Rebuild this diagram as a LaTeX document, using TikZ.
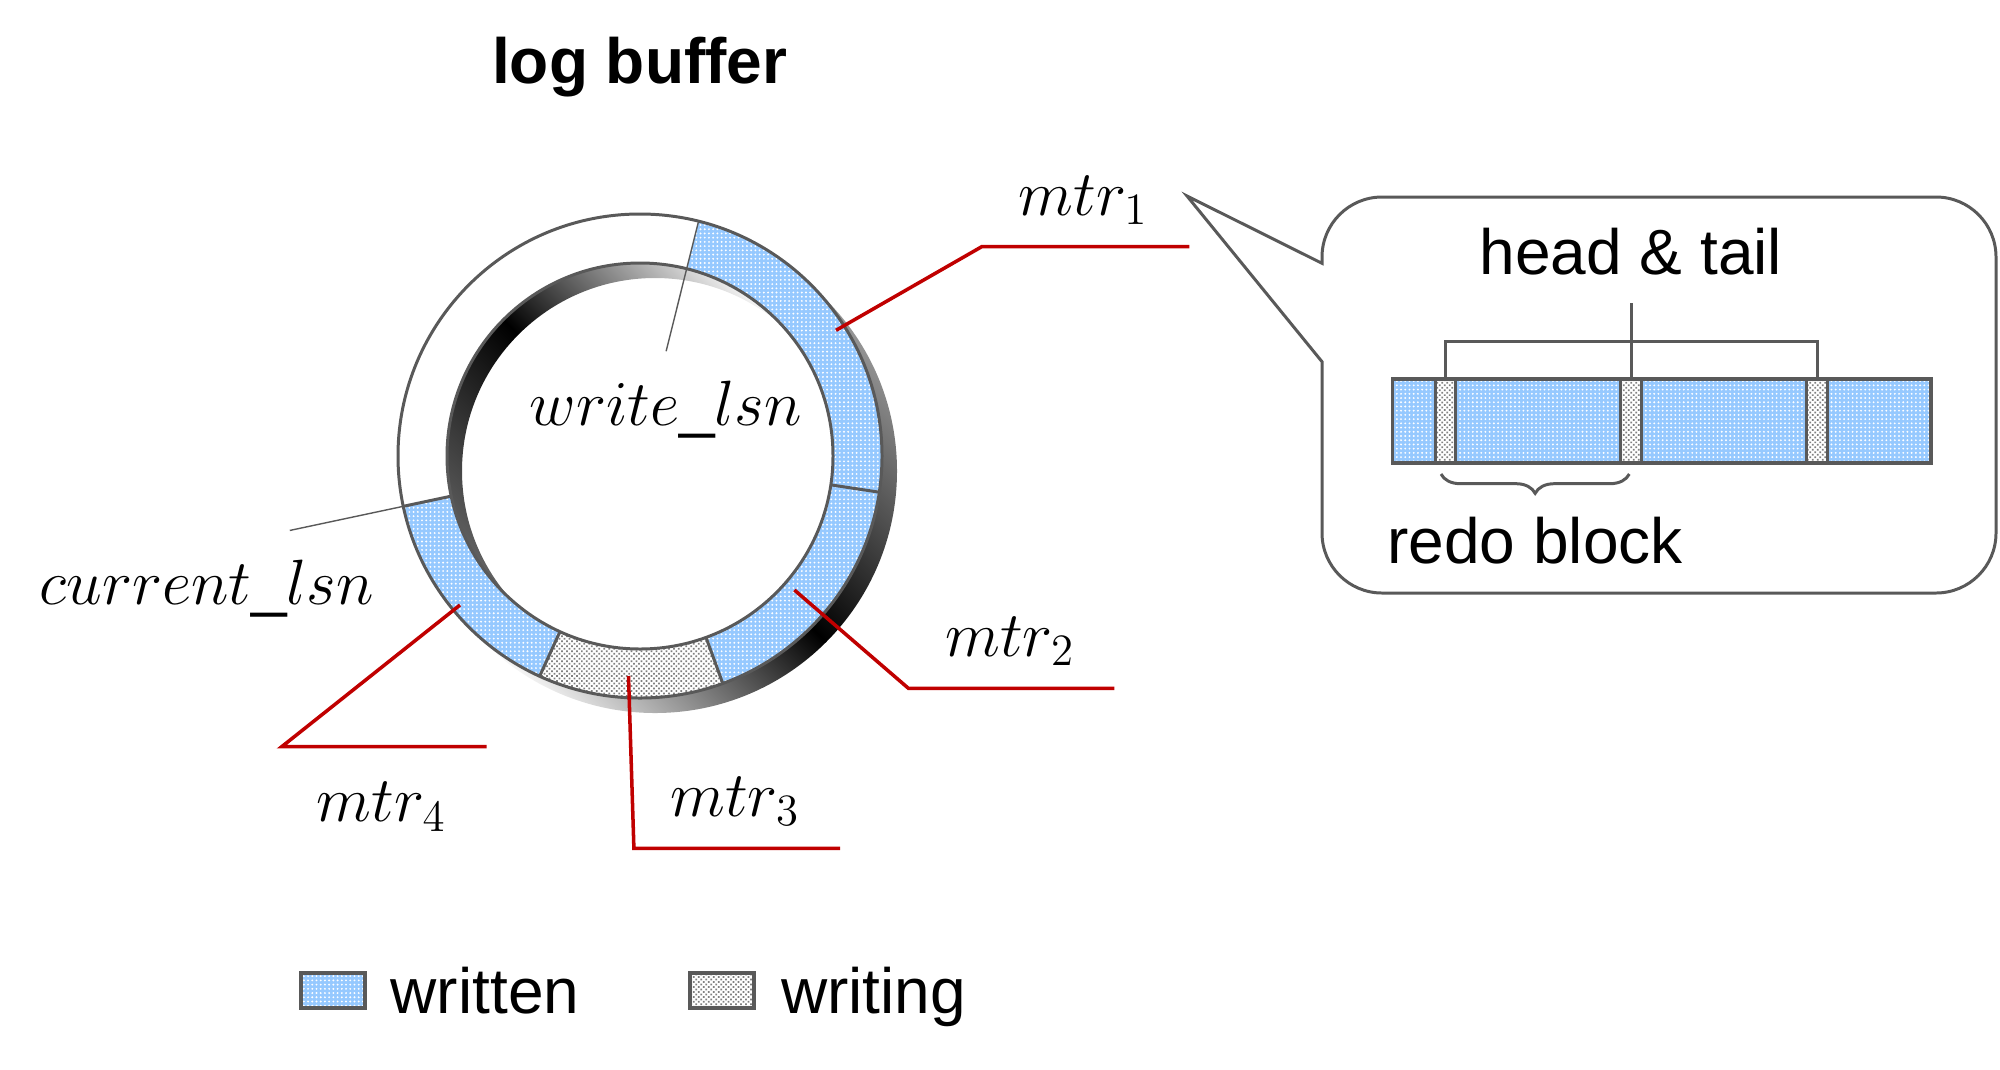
\RequirePackage{fix-cm}
\documentclass[tikz,border=0pt]{standalone}
\usepackage[no-math]{fontspec}
\setmainfont{Liberation Sans}
\usetikzlibrary{patterns,patterns.meta,decorations.pathreplacing}
\definecolor{lgray}{RGB}{89,89,89}
\definecolor{mred}{RGB}{192,0,0}
\definecolor{wblue}{RGB}{150,201,255}
\tikzstyle{txt}=[inner sep=0pt,font=\fontsize{18.2}{22}\selectfont]
\tikzstyle{written}=[fill=wblue,postaction={pattern={Dots[radius=0.3pt,distance=1.2pt]},pattern color=white}]
\tikzstyle{writing}=[fill=white,postaction={pattern={Dots[radius=0.35pt,distance=1pt,angle=45]},pattern color=black!50}]
\tikzstyle{ring}=[draw=lgray,line width=0.85pt]
\tikzstyle{tick}=[draw=lgray,line width=0.85pt]
\tikzstyle{glink}=[draw=lgray,line width=0.4pt]
\tikzstyle{mlink}=[draw=mred,line width=1pt]
\newcommand{\ringseg}[3]{\path[#1] (#2:242) arc[start angle=#2,end angle=#3,radius=242] -- (#3:193) arc[start angle=#3,end angle=#2,radius=193] -- cycle;}

\begin{document}
\begin{tikzpicture}[x=0.01cm,y=0.01cm]
\useasboundingbox (0,0) rectangle (2000,-1069);
\node[txt,anchor=base] (logbuf) at (639.7,-83.3) {\bfseries log buffer};

\begin{scope}[shift={(640,-456)}]
\shade[even odd rule,top color=lgray!60,bottom color=white,middle color=black,shading angle=-45] (15,-15) circle[radius=242] (0,0) circle[radius=242];
\shade[even odd rule,top color=white,bottom color=black!60,middle color=black,shading angle=-45] (0,0) circle[radius=193] (15,-15) circle[radius=193];
\ringseg{fill=white}{76}{192}
\ringseg{written}{192}{245.5}
\ringseg{writing}{245.5}{290}
\ringseg{written}{290}{351.4}
\ringseg{written}{351.4}{436}
\draw[ring] (0,0) circle[radius=242] (0,0) circle[radius=193];
\foreach \a in {192,245.5,290,351.4} \draw[ring] (\a:193) -- (\a:242);
\coordinate (wl) at (76:242); \coordinate (wlend) at (76:108);
\coordinate (cl) at (192:242); \coordinate (clend) at (192:358);
\end{scope}
\draw[glink] (wl) -- (wlend);
\draw[glink] (cl) -- (clend);

\node[txt,anchor=base] (wlsn) at (665.9,-425.7) {$write\_lsn$};
\node[txt,anchor=base] (clsn) at (206.7,-604) {$current\_lsn$};

\coordinate (m1a) at (836,-330.3); \coordinate (m1b) at (981.7,-246.7); \coordinate (m1c) at (1189.3,-246.7);
\coordinate (m2a) at (794.4,-590); \coordinate (m2b) at (908.4,-688.3); \coordinate (m2c) at (1114.4,-688.3);
\coordinate (m3a) at (628.5,-676); \coordinate (m3b) at (633.9,-848.3); \coordinate (m3c) at (840,-848.3);
\coordinate (m4a) at (460,-605); \coordinate (m4b) at (281.7,-746.7); \coordinate (m4c) at (486.7,-746.7);
\draw[mlink] (m1a) -- (m1b) -- (m1c);
\draw[mlink] (m2a) -- (m2b) -- (m2c);
\draw[mlink] (m3a) -- (m3b) -- (m3c);
\draw[mlink] (m4a) -- (m4b) -- (m4c);
\node[txt,anchor=base] (mtr1) at (1083.3,-215) {$mtr_1$};
\node[txt,anchor=base] (mtr2) at (1010,-656) {$mtr_2$};
\node[txt,anchor=base] (mtr3) at (735.2,-816) {$mtr_3$};
\node[txt,anchor=base] (mtr4) at (381.5,-821.7) {$mtr_4$};

\coordinate (tip) at (1187,-196);
\draw[tick] (1322,-263.3) -- (tip) -- (1322,-361.7) -- (1322,-533) arc[start angle=180,end angle=270,radius=60] -- (1936,-593) arc[start angle=270,end angle=360,radius=60] -- (1996,-257) arc[start angle=0,end angle=90,radius=60] -- (1382,-197) arc[start angle=90,end angle=180,radius=60] -- cycle;

\path[written] (1392.5,-379.3) rectangle (1931,-463.3);
\foreach \x/\n in {1435/s1,1620.7/s2,1806.7/s3} {
  \path[writing] (\x,-379.3) rectangle ++(20.7,-84);
  \draw[tick] (\x,-379.3) rectangle ++(20.7,-84);
  \coordinate (\n) at (\x+10.35,-379.3);
}
\draw[tick,line width=1.1pt] (1392.5,-379.3) rectangle (1931,-463.3);
\draw[tick] (s1) -- ++(0,37.6) -| (s3);
\draw[tick] (s2) -- ++(0,76);
\draw[tick,decorate,decoration={brace,mirror,amplitude=5.5pt}] (1441,-474) -- (1629.3,-474);
\node[txt,anchor=base] (ht) at (1631,-274) {head \& tail};
\node[txt,anchor=base west] (rb) at (1386.7,-563.3) {redo block};

\path[written] (300.7,-973.3) rectangle (365,-1008.3);
\draw[tick,line width=1.1pt] (300.7,-973.3) rectangle (365,-1008.3);
\node[txt,anchor=base west] (lw) at (390,-1013) {written};
\path[writing] (690,-973.3) rectangle (754.3,-1008.3);
\draw[tick,line width=1.1pt] (690,-973.3) rectangle (754.3,-1008.3);
\node[txt,anchor=base west] (lg) at (780.5,-1013) {writing};
\end{tikzpicture}
\end{document}
